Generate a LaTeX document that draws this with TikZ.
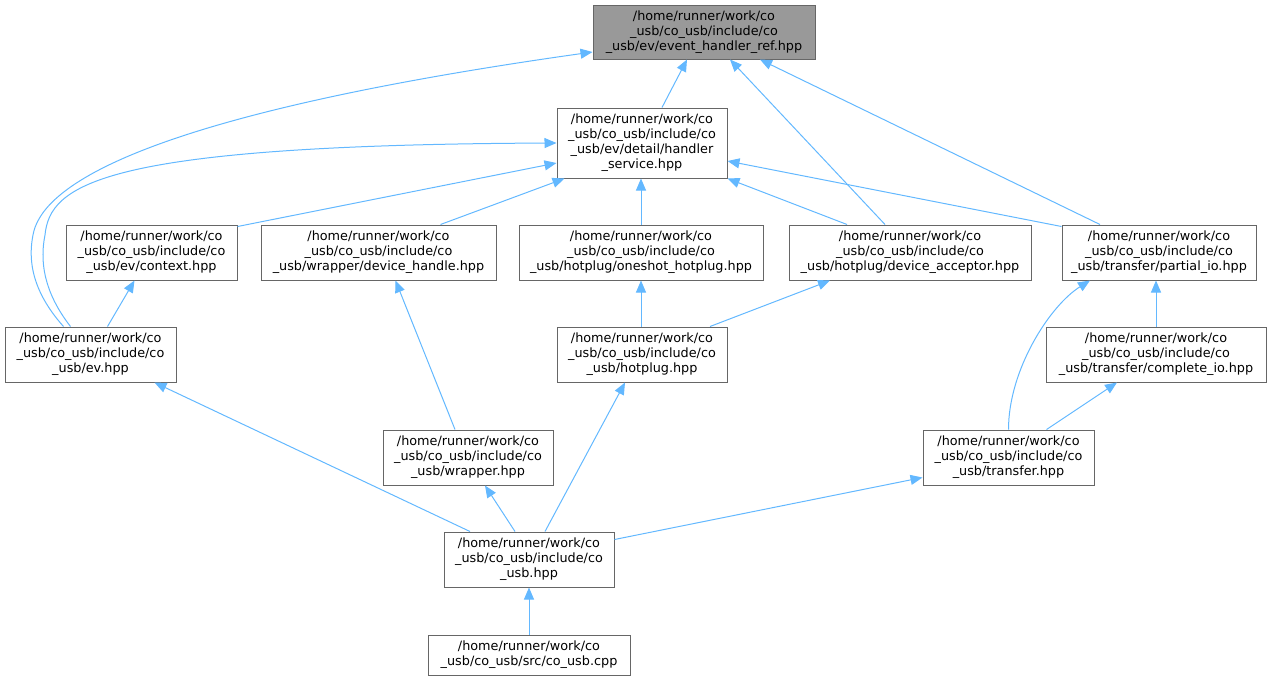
\documentclass[tikz,border=0pt]{standalone}
\usepackage{fontspec}
\setmainfont{DejaVu Sans}
\usetikzlibrary{arrows.meta}
\definecolor{edgeblue}{HTML}{63B8FF}
\definecolor{boxline}{HTML}{666666}
\definecolor{rootfill}{HTML}{999999}
\begin{document}
\begin{tikzpicture}[x=1pt,y=-1pt,
    incbox/.style={draw=boxline, line width=1pt, fill=white, inner sep=0pt,
        align=center, minimum height=55pt, font=\fontsize{12.8}{15}\selectfont},
    incarrow/.style={draw=edgeblue, line width=1pt,
        -{Triangle[length=12pt,width=10pt]}}]
        \useasboundingbox (0,0) rectangle (1271,681);

        % Root header
        \node[incbox, fill=rootfill, minimum width=222pt, minimum height=54pt] (ref) at (704,32)
            {/home/runner/work/co\\\_usb/co\_usb/include/co\\\_usb/ev/event\_handler\_ref.hpp};

        % Second row
        \node[incbox, minimum width=170pt, minimum height=70pt] (hs) at (642,143)
            {/home/runner/work/co\\\_usb/co\_usb/include/co\\\_usb/ev/detail/handler\\\_service.hpp};

        % Third row
        \node[incbox, minimum width=171pt] (ctx) at (151.5,252.5)
            {/home/runner/work/co\\\_usb/co\_usb/include/co\\\_usb/ev/context.hpp};
        \node[incbox, minimum width=235pt] (dh) at (378.5,252.5)
            {/home/runner/work/co\\\_usb/co\_usb/include/co\\\_usb/wrapper/device\_handle.hpp};
        \node[incbox, minimum width=244pt] (osh) at (641,252.5)
            {/home/runner/work/co\\\_usb/co\_usb/include/co\\\_usb/hotplug/oneshot\_hotplug.hpp};
        \node[incbox, minimum width=242pt] (dacc) at (910,252.5)
            {/home/runner/work/co\\\_usb/co\_usb/include/co\\\_usb/hotplug/device\_acceptor.hpp};
        \node[incbox, minimum width=194pt] (pio) at (1159,252.5)
            {/home/runner/work/co\\\_usb/co\_usb/include/co\\\_usb/transfer/partial\_io.hpp};

        % Fourth row
        \node[incbox, minimum width=171pt] (ev) at (90.5,354.5)
            {/home/runner/work/co\\\_usb/co\_usb/include/co\\\_usb/ev.hpp};
        \node[incbox, minimum width=170pt] (hp) at (642,354.5)
            {/home/runner/work/co\\\_usb/co\_usb/include/co\\\_usb/hotplug.hpp};
        \node[incbox, minimum width=220pt] (cio) at (1156,354.5)
            {/home/runner/work/co\\\_usb/co\_usb/include/co\\\_usb/transfer/complete\_io.hpp};

        % Fifth row
        \node[incbox, minimum width=170pt] (wr) at (468,457.5)
            {/home/runner/work/co\\\_usb/co\_usb/include/co\\\_usb/wrapper.hpp};
        \node[incbox, minimum width=171pt] (tr) at (1008.5,457.5)
            {/home/runner/work/co\\\_usb/co\_usb/include/co\\\_usb/transfer.hpp};

        % Umbrella header and source
        \node[incbox, minimum width=170pt] (cu) at (529,559.5)
            {/home/runner/work/co\\\_usb/co\_usb/include/co\\\_usb.hpp};
        \node[incbox, minimum width=202pt, minimum height=40pt] (cpp) at (529,655)
            {/home/runner/work/co\\\_usb/co\_usb/src/co\_usb.cpp};

        % Includes of event_handler_ref.hpp
        \draw[incarrow] ([xshift=20pt]hs.north) -- ([xshift=-17pt]ref.south);
        \draw[incarrow] ([xshift=-25pt]dacc.north) -- ([xshift=26pt]ref.south);
        \draw[incarrow] ([xshift=-59pt]pio.north) -- ([xshift=56pt]ref.south);
        \draw[incarrow] ([xshift=-27pt]ev.north) .. controls (40,300) and (26,270) .. (33,235)
            .. controls (40,195) and (110,120) .. ([yshift=-20pt]ref.west);

        % Includes of handler_service.hpp
        \draw[incarrow] ([xshift=-20pt]ev.north) .. controls (50,300) and (38,270) .. (45,235)
            .. controls (50,185) and (100,145) .. (hs.west);
        \draw[incarrow] ([yshift=-2pt]ctx.north east) -- ([yshift=-20pt]hs.west);
        \draw[incarrow] ([xshift=62pt]dh.north) -- ([xshift=8pt]hs.south west);
        \draw[incarrow] (osh.north) -- ([xshift=-1pt]hs.south);
        \draw[incarrow] ([xshift=-63pt]dacc.north) -- (hs.south east);
        \draw[incarrow] ([yshift=-2pt]pio.north west) -- ([yshift=-18pt]hs.east);

        % Remaining includes
        \draw[incarrow] ([xshift=17pt]ev.north) -- ([xshift=-17pt]ctx.south);
        \draw[incarrow] ([xshift=-13pt]wr.north) -- ([xshift=17pt]dh.south);
        \draw[incarrow] ([xshift=-1pt]hp.north) -- (osh.south);
        \draw[incarrow] ([xshift=68pt]hp.north) -- ([xshift=-80pt]dacc.south);
        \draw[incarrow] (tr.north) .. controls +(0,-60) and +(-40,25) .. ([xshift=-69pt]pio.south);
        \draw[incarrow] (cio.north) -- ([xshift=-3pt]pio.south);
        \draw[incarrow] ([xshift=38pt]tr.north) -- ([xshift=-39pt]cio.south);
        \draw[incarrow] ([xshift=-59pt]cu.north) -- ([xshift=64pt]ev.south);
        \draw[incarrow] ([xshift=-14pt]cu.north) -- ([xshift=17pt]wr.south);
        \draw[incarrow] ([xshift=16pt]cu.north) -- ([xshift=-17pt]hp.south);
        \draw[incarrow] ([yshift=-8pt]cu.north east) -- ([yshift=-20pt]tr.west);
        \draw[incarrow] (cpp.north) -- (cu.south);
    \end{tikzpicture}
\end{document}
